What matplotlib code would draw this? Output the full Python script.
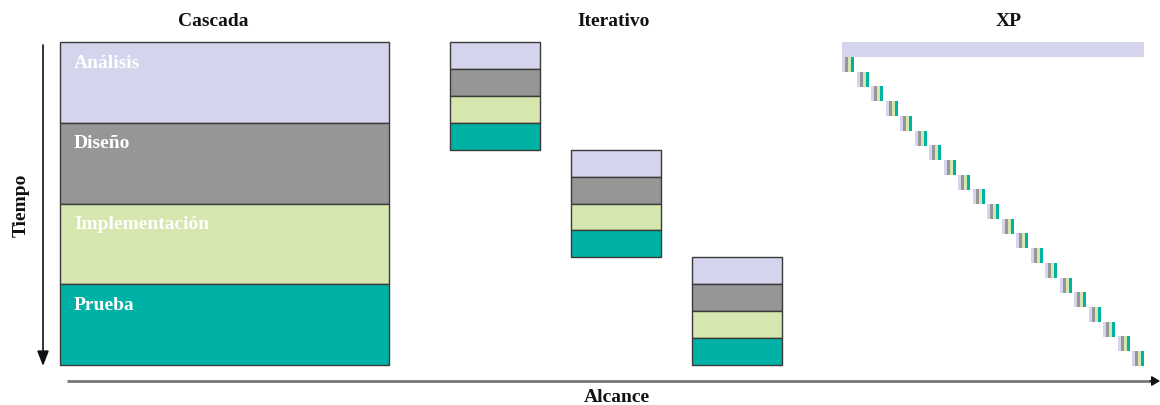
import matplotlib.pyplot as plt
from matplotlib.patches import Rectangle

# data
methods = ['Cascada', 'Iterativo', 'XP']
phases = ['Análisis', 'Diseño', 'Implementación', 'Prueba']
phase_colors = ['#d4d4ec', '#969696', '#d5e6ae', '#00b2a5']
n_iter = 3        # iterations in Iterativo
n_xp = 21         # tiny iterations in XP
x_label = 'Alcance'
y_label = 'Tiempo'

plt.rcParams['font.family'] = ['Liberation Serif', 'DejaVu Serif']

fig = plt.figure(figsize=(11.6, 4.05), dpi=100)
ax = fig.add_axes([0, 0, 1, 1])
ax.set_xlim(0, 1160)
ax.set_ylim(405, 0)
ax.axis('off')

edge = '#3a3a3a'
top, bottom = 42, 365

# Cascada: one big block
x0, x1 = 60, 389
band = (bottom - top) / len(phases)
for i, (name, col) in enumerate(zip(phases, phase_colors)):
    y = top + i * band
    ax.add_patch(Rectangle((x0, y), x1 - x0, band, facecolor=col,
                           edgecolor=edge, lw=1))
    ax.text(x0 + 14, y + 21, name, color='white', fontsize=14,
            fontweight='bold', va='center', ha='left')

# Iterativo: three smaller blocks stepping down
gx0, gw, gstep = 450, 90, 121
gh = (bottom - top) / n_iter
for k in range(n_iter):
    gx = gx0 + k * gstep
    gy = top + k * gh
    sb = gh / len(phases)
    for i, col in enumerate(phase_colors):
        ax.add_patch(Rectangle((gx, gy + i * sb), gw, sb, facecolor=col,
                               edgecolor=edge, lw=1))

# XP: planning bar + many tiny iterations
ax.add_patch(Rectangle((842, 42), 302, 15, facecolor=phase_colors[0],
                       edgecolor='none'))
xs, ys = 842, 57
dx = (1132 - 842) / (n_xp - 1)
dy = (351 - 57) / (n_xp - 1)
sw, bh = 3, 15
for k in range(n_xp):
    for i, col in enumerate(phase_colors):
        ax.add_patch(Rectangle((xs + k * dx + i * sw, ys + k * dy), sw, bh,
                               facecolor=col, edgecolor='none'))

# titles
for name, cx in zip(methods, [213, 614, 1009]):
    ax.text(cx, 22, name, fontsize=14, fontweight='bold', ha='center',
            va='center', color='#111111')

# axes arrows
ax.annotate('', xy=(43, 366), xytext=(43, 45),
            arrowprops=dict(arrowstyle='-|>,head_length=0.9,head_width=0.35',
                            color='#111111', lw=1.2, shrinkA=0, shrinkB=0))
ax.text(21, 205, y_label, rotation=90, fontsize=14, fontweight='bold',
        ha='center', va='center', color='#111111')

ax.plot([67, 1154], [381, 381], color='#777777', lw=2, solid_capstyle='butt')
ax.annotate('', xy=(1160, 381), xytext=(1150, 381),
            arrowprops=dict(arrowstyle='-|>,head_length=0.5,head_width=0.3',
                            color='#111111', lw=1, shrinkA=0, shrinkB=0))
ax.text(617, 398, x_label, fontsize=14, fontweight='bold', ha='center',
        va='center', color='#111111')

fig.savefig('out.png', dpi=100)
